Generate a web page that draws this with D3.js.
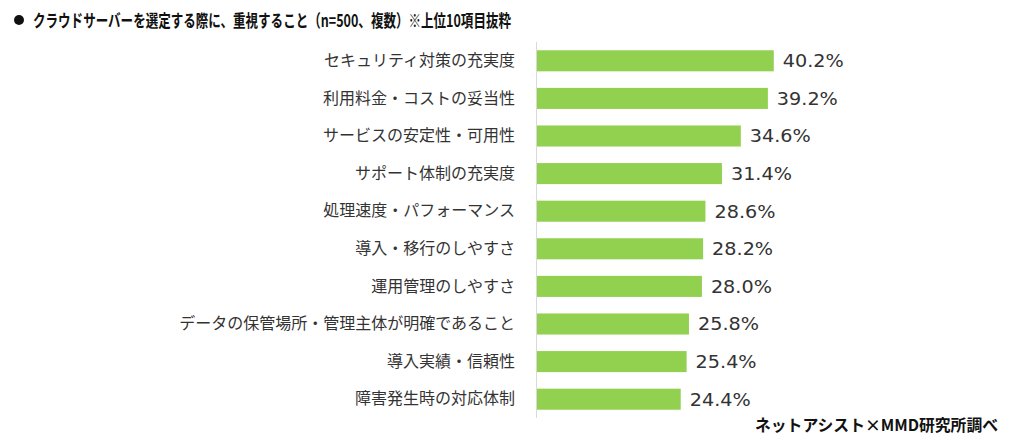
<!DOCTYPE html>
<html><head><meta charset="utf-8">
<script src="https://cdn.jsdelivr.net/npm/d3@7"></script>
<style>
html,body{margin:0;padding:0;background:#fff;}
svg{display:block;}
</style>
</head><body>
<svg id="chart" width="1012" height="443"></svg>
<script>
const categories = [
  "セキュリティ対策の充実度",
  "利用料金・コストの妥当性",
  "サービスの安定性・可用性",
  "サポート体制の充実度",
  "処理速度・パフォーマンス",
  "導入・移行のしやすさ",
  "運用管理のしやすさ",
  "データの保管場所・管理主体が明確であること",
  "導入実績・信頼性",
  "障害発生時の対応体制"
];
const values = [40.2, 39.2, 34.6, 31.4, 28.6, 28.2, 28.0, 25.8, 25.4, 24.4];
const title = "クラウドサーバーを選定する際に、重視すること（n=500、複数）※上位10項目抜粋";
const source = "ネットアシスト×MMD研究所調べ";

const svg = d3.select("#chart");
const jp = "'Noto Sans CJK JP','Noto Sans',sans-serif";

const x = d3.scaleLinear().domain([0, 50]).range([537, 537 + 5.89 * 50]);
const y = d3.scaleBand().domain(categories).range([42, 418]).paddingInner(0.44).paddingOuter(0.22);

// title
svg.append("circle").attr("cx", 19).attr("cy", 20).attr("r", 5).attr("fill", "#111");
svg.append("text").attr("x", 33).attr("y", 26.5).text(title)
  .attr("font-family", jp).attr("font-weight", "bold").attr("font-size", 17.5).attr("fill", "#111")
  .attr("textLength", 478).attr("lengthAdjust", "spacingAndGlyphs");

// bars
svg.selectAll("rect.bar").data(values).join("rect")
  .attr("class", "bar")
  .attr("x", x(0))
  .attr("y", (d, i) => y(categories[i]))
  .attr("width", d => x(d) - x(0))
  .attr("height", y.bandwidth())
  .attr("fill", "#92d050");

// axis line
svg.append("line").attr("x1", 536.5).attr("x2", 536.5).attr("y1", 42).attr("y2", 418)
  .attr("stroke", "#d9d9d9").attr("stroke-width", 1);

// category labels via axis
const ax = svg.append("g").attr("transform", "translate(536,0)")
  .call(d3.axisLeft(y).tickSize(0).tickPadding(21));
ax.select(".domain").remove();
ax.selectAll("text").attr("font-family", jp).attr("font-size", 16).attr("fill", "#333");

// value labels
svg.selectAll("text.val").data(values).join("text")
  .attr("class", "val")
  .attr("x", d => x(d) + 9)
  .attr("y", (d, i) => y(categories[i]) + y.bandwidth() / 2)
  .attr("dy", "0.36em")
  .text(d => d.toFixed(1) + "%")
  .attr("font-family", "'DejaVu Sans',sans-serif")
  .attr("font-size", 18).attr("fill", "#333")
  .attr("textLength", 61).attr("lengthAdjust", "spacingAndGlyphs");

// source
svg.append("text").attr("x", 998).attr("y", 431).attr("text-anchor", "end").text(source)
  .attr("font-family", jp).attr("font-weight", "bold").attr("font-size", 16).attr("fill", "#111")
  .attr("textLength", 243).attr("lengthAdjust", "spacingAndGlyphs");
</script>
</body></html>
